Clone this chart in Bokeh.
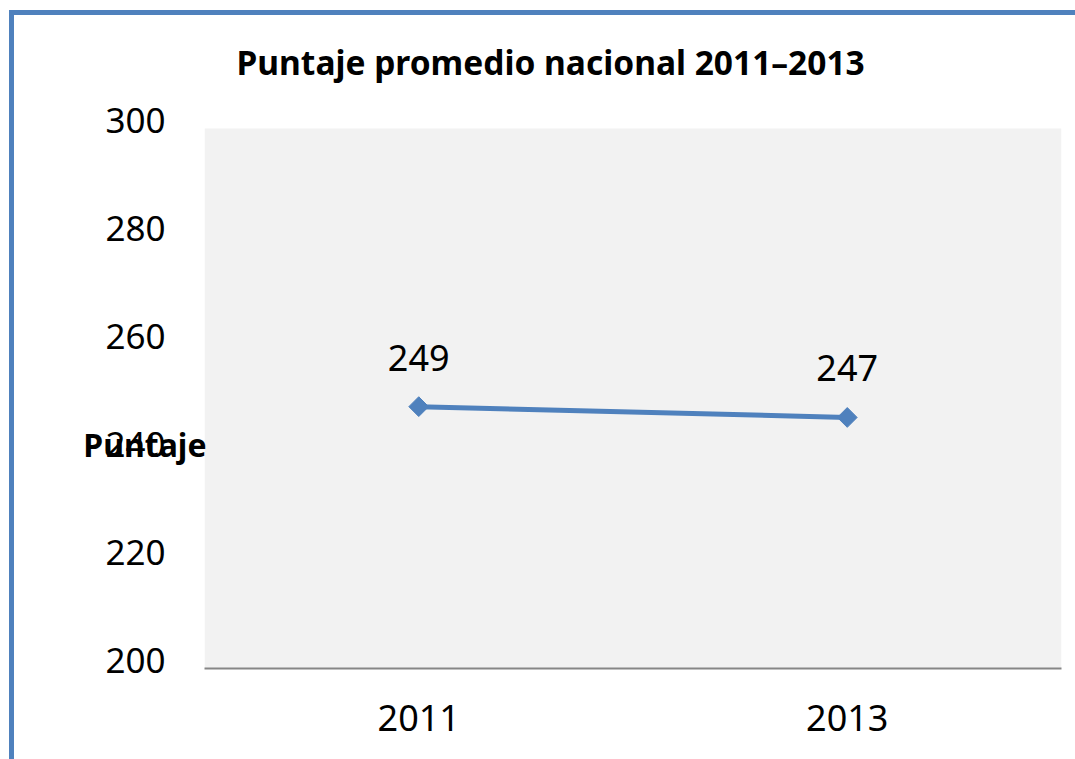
from bokeh.plotting import figure
from bokeh.models import (ColumnDataSource, LinearAxis, FixedTicker, Range1d,
                          BoxAnnotation)
from bokeh.embed import file_html
from bokeh.resources import INLINE
from math import pi

years = ["2011", "2013"]
scores = [248.5, 246.5]
score_labels = ["249", "247"]
y_ticks = [200, 220, 240, 260, 280, 300]
y_min, y_max = 200, 300
y_title = "Puntaje"
y_title_at = 240

BLUE = "#4f81bd"
FONT = "Noto Sans"

src = ColumnDataSource(dict(x=years, y=scores, lab=score_labels))

# the plot frame reaches 1.5 units above 300 so that the tick labels can sit
# slightly above their values, as in the original; that strip is left white
p = figure(width=1075, height=759, x_range=years, y_range=Range1d(y_min, 301.5),
           output_backend="svg", toolbar_location=None,
           min_border_left=204, min_border_right=14,
           min_border_top=120, min_border_bottom=91)
p.x_range.range_padding = 0
p.extra_y_ranges = {"lbl": Range1d(198.5, 300)}
p.background_fill_color = "white"
p.border_fill_color = None
p.outline_line_color = None
p.xgrid.grid_line_color = None
p.ygrid.grid_line_color = None
p.styles = {
    "background": (
        "linear-gradient(#4f81bd,#4f81bd) 9px 10px / 1066px 5px no-repeat, "
        "linear-gradient(#4f81bd,#4f81bd) 9px 10px / 5px 749px no-repeat, white"
    )
}
p.add_layout(BoxAnnotation(bottom=y_min, top=y_max, fill_color="#f2f2f2",
                           fill_alpha=1, line_color=None, level="underlay"))

p.title.text = "Puntaje promedio nacional 2011–2013"
p.title.text_font = FONT
p.title.text_font_size = "33.5px"
p.title.text_font_style = "bold"
p.title.text_color = "black"
p.title.align = "left"
p.title.offset = 32
p.title.standoff = 71

# y axis
yax = p.yaxis[0]
yax.y_range_name = "lbl"
yax.ticker = y_ticks
yax.axis_line_color = None
yax.major_tick_line_color = None
yax.minor_tick_line_color = None
yax.major_tick_out = 0
yax.major_label_standoff = 39
yax.major_label_text_font = FONT
yax.major_label_text_font_size = "35px"
yax.major_label_text_color = "black"

# horizontal y-axis title, drawn over the "240" label as in the original
lab_axis = LinearAxis(y_range_name="lbl",
                      ticker=FixedTicker(ticks=[y_title_at]),
                      major_label_overrides={y_title_at: y_title},
                      axis_line_color=None, major_tick_line_color=None,
                      minor_tick_line_color=None, major_tick_out=0,
                      major_tick_in=0, major_label_standoff=-104,
                      major_label_text_font=FONT,
                      major_label_text_font_size="32px",
                      major_label_text_font_style="bold",
                      major_label_text_color="black")
p.add_layout(lab_axis, "left")

# x axis
p.xaxis.axis_line_color = "#868686"
p.xaxis.axis_line_width = 2
p.xaxis.major_tick_line_color = None
p.xaxis.minor_tick_line_color = None
p.xaxis.major_tick_out = 0
p.xaxis.major_label_standoff = 36
p.xaxis.major_label_text_font = FONT
p.xaxis.major_label_text_font_size = "36px"
p.xaxis.major_label_text_color = "black"

p.line("x", "y", source=src, line_color=BLUE, line_width=5)
p.scatter("x", "y", source=src, marker="square", angle=pi / 4, size=14,
          fill_color=BLUE, line_color=BLUE)
p.text("x", "y", text="lab", source=src, y_offset=-49,
       text_align="center", text_baseline="middle",
       text_font={"value": FONT}, text_font_size={"value": "36px"},
       text_color="black")

open("out.html", "w").write(file_html(p, INLINE))
